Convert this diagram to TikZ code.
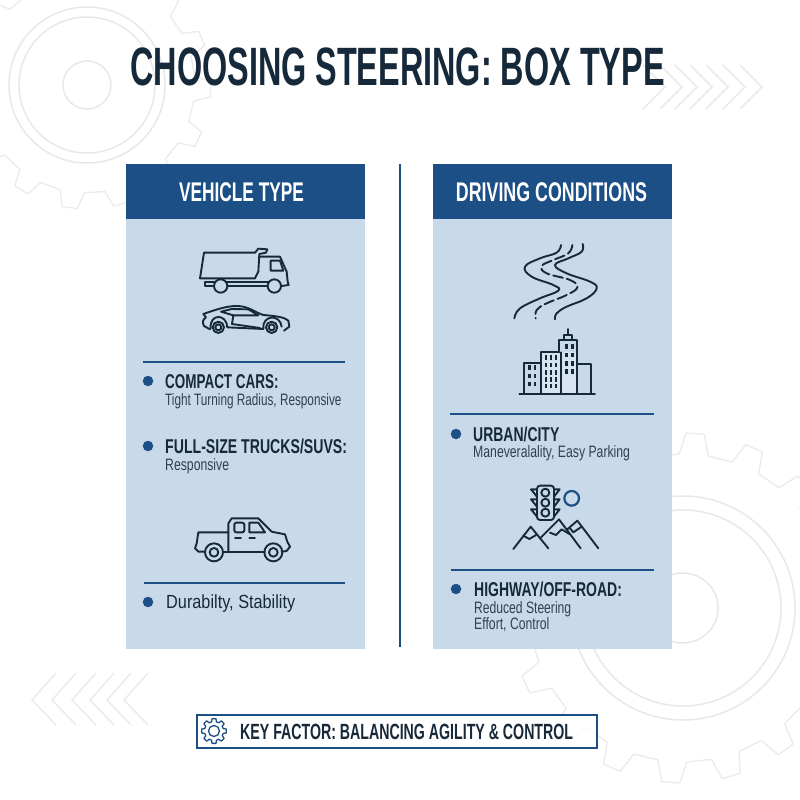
\documentclass[tikz,border=0pt]{standalone}
\usepackage{graphicx}
\usepackage{fontspec}
\setmainfont[FakeStretch=0.72]{Liberation Sans}
\definecolor{ink}{HTML}{16293B}
\definecolor{subink}{HTML}{2E4152}
\definecolor{navy}{HTML}{1C4F85}
\definecolor{panel}{HTML}{C8D9EA}
\definecolor{light}{HTML}{D6E3F0}
\definecolor{rim}{HTML}{E7E8EA}
\definecolor{rimb}{HTML}{EAEBED}
\newcommand{\sx}[2]{\scalebox{#1}[1]{#2}}
\tikzset{
  x=1pt,y=-1pt,
  panelbox/.style={fill=panel,draw=none},
  headbox/.style={fill=navy,draw=none},
  sepline/.style={draw=navy,line width=1.6pt},
  bulletdot/.style={circle,fill=navy,inner sep=0pt,minimum size=10.5pt},
  headtext/.style={text=white,font=\bfseries\fontsize{27}{27}\selectfont,inner sep=0pt},
  itemhead/.style={anchor=base west,text=ink,font=\bfseries\fontsize{20}{20}\selectfont,inner sep=0pt},
  itemsub/.style={anchor=base west,text=subink,font=\fontsize{16.5}{16.5}\selectfont,inner sep=0pt},
  iconline/.style={draw=ink,line width=1.9pt,line join=round,line cap=round},
  gearline/.style={draw=rimb,line width=1.3pt,line join=round},
  ringline/.style={draw=rim,line width=1.5pt},
  chevline/.style={draw=rimb,line width=1.5pt,line join=miter},
  smallbox/.style={shift={#1},xscale=1/3,yscale=1/3}
}
\newcommand{\cogpath}[6]{% cx cy root tip n offset
  \begin{scope}[shift={(#1,#2)}]
    \pgfmathsetmacro{\cogp}{360/#5}
    \foreach \k in {1,...,#5}{
      \pgfmathsetmacro{\coga}{#6+\k*\cogp}
      \draw[gearline] (\coga-0.27*\cogp:#3) -- (\coga-0.15*\cogp:#4) -- (\coga+0.15*\cogp:#4) -- (\coga+0.27*\cogp:#3) -- (\coga+0.73*\cogp:#3);
    }
  \end{scope}}
\begin{document}
\begin{tikzpicture}
\useasboundingbox (0,0) rectangle (800,800);
\clip (0,0) rectangle (800,800);
\fill[white] (0,0) rectangle (800,800);
% background gears
\cogpath{87}{85}{108}{124}{15}{2}
\draw[ringline] (87,85) circle[radius=78];
\draw[ringline] (87,85) circle[radius=68];
\draw[ringline] (87,85) circle[radius=24];
\cogpath{683}{608}{154}{175}{18}{-86}
\draw[ringline] (683,608) circle[radius=112];
\draw[ringline] (683,608) circle[radius=98];
\draw[ringline] (683,608) circle[radius=35];
% chevrons
\foreach \a in {665,682,697,712,728,745,762}
  \draw[chevline] (\a-22,109) -- (\a,87) -- (\a-22,65);
\foreach \a in {32,52,72,90,107,124}
  \draw[chevline] (\a+24,673) -- (\a,700) -- (\a+24,725);
% title
\node[text=ink,font=\bfseries\fontsize{54}{54}\selectfont,inner sep=0pt,anchor=base] (title) at (397.5,85) {\sx{0.833}{CHOOSING STEERING: BOX TYPE}};
% panels
\fill[panelbox] (126,164) rectangle (365,649);
\fill[headbox] (126,164) rectangle (365,219);
\fill[panelbox] (433,164) rectangle (672,649);
\fill[headbox] (433,164) rectangle (672,219);
\draw[navy,line width=2pt] (400,164) -- (400,647);
\node[headtext,anchor=base] (headl) at (241.5,201.5) {\sx{0.89}{VEHICLE TYPE}};
\node[headtext,anchor=base] (headr) at (551.5,201.5) {\sx{0.917}{DRIVING CONDITIONS}};
% separators
\draw[sepline] (143,362) -- (345,362);
\draw[sepline] (144,583) -- (345,583);
\draw[sepline] (450,414) -- (654,414);
\draw[sepline] (451,570) -- (654,570);
% left items
\node[bulletdot] (b1) at (148,381) {};
\node[itemhead] (t1) at (165,388) {\sx{0.934}{COMPACT CARS:}};
\node[itemsub] (s1) at (165,405) {\sx{0.99}{Tight Turning Radius, Responsive}};
\node[bulletdot] (b2) at (148,446) {};
\node[itemhead] (t2) at (165,453) {\sx{0.98}{FULL-SIZE TRUCKS/SUVS:}};
\node[itemsub] (s2) at (165,470) {\sx{1.03}{Responsive}};
\node[bulletdot] (b3) at (148,602) {};
\node[itemhead,font=\fontsize{19}{19}\selectfont] (t3) at (166,608) {\sx{1.19}{Durabilty, Stability}};
% right items
\node[bulletdot] (b4) at (456,434) {};
\node[itemhead] (t4) at (473,441) {\sx{0.97}{URBAN/CITY}};
\node[itemsub] (s4) at (473,457) {\sx{1.03}{Maneveralality, Easy Parking}};
\node[bulletdot] (b5) at (456,589) {};
\node[itemhead] (t5) at (474,596) {\sx{0.97}{HIGHWAY/OFF-ROAD:}};
\node[itemsub] (s5) at (474,613) {\sx{1.02}{Reduced Steering}};
\node[itemsub] (s6) at (474,629) {\sx{1.03}{Effort, Control}};
% truck
\begin{scope}[smallbox={(120,230)}]
  \draw[iconline] (252,68) -- (405,68) -- (415,56) -- (442,58) -- (438,68) -- (418,72) -- (415,125) -- (405,145) -- (240,145) -- cycle;
  \draw[iconline] (418,80) -- (480,80) -- (500,125) -- (503,155) -- (506,165) -- (485,168);
  \draw[iconline] (440,168) -- (325,168);
  \draw[iconline] (280,168) -- (255,168) -- (255,155) -- (285,155);
  \draw[iconline] (320,155) -- (445,155);
  \draw[iconline] (452,92) -- (480,92) -- (490,122) -- (452,122) -- cycle;
  \draw[iconline] (302,168) circle[radius=20];
  \draw[iconline] (463,168) circle[radius=20];
  % car
  \draw[iconline] (270,298) -- (252,288) .. controls (245,275) and (250,268) .. (258,262) -- (250,252) .. controls (290,238) and (320,228) .. (350,228) .. controls (385,228) and (400,245) .. (430,255) .. controls (470,258) and (495,262) .. (505,272) -- (508,290) -- (492,302);
  \draw[iconline] (272,295) .. controls (268,250) and (320,250) .. (322,292) -- (430,297) .. controls (425,255) and (480,250) .. (485,290);
  \draw[iconline] (295,292) circle[radius=17];
  \draw[iconline] (295,292) circle[radius=9];
  \draw[iconline] (455,292) circle[radius=17];
  \draw[iconline] (455,292) circle[radius=9];
  \draw[iconline] (303,245) -- (335,237) -- (385,238) -- (415,256) -- (340,256) -- cycle;
  \draw[iconline] (340,256) -- (336,282) -- (420,294);
\end{scope}
% pickup
\begin{scope}[smallbox={(170,500)}]
  \draw[iconline] (105,155) -- (85,155) -- (75,145) -- (80,130) -- (85,97) -- (175,97);
  \draw[iconline] (160,157) -- (285,157);
  \draw[iconline] (175,157) -- (175,70) -- (185,55) -- (265,55) -- (305,95) -- (345,103) -- (352,125) -- (360,140) -- (350,153) -- (335,155);
  \draw[iconline,rounded corners=2pt] (193,68) rectangle (223,97);
  \draw[iconline] (238,68) -- (265,68) -- (285,97) -- (238,97) -- cycle;
  \draw[iconline] (195,115) -- (213,115);
  \draw[iconline] (238,115) -- (255,115);
  \draw[iconline] (132,157) circle[radius=27];
  \draw[iconline] (132,157) circle[radius=13];
  \draw[iconline] (310,157) circle[radius=27];
  \draw[iconline] (310,157) circle[radius=13];
\end{scope}
% roads and city
\begin{scope}[smallbox={(490,230)}]
  \draw[iconline] plot[smooth,tension=0.7] coordinates {(213,45) (200,68) (150,85) (105,110) (125,140) (190,165) (205,182) (150,205) (90,235) (73,265)};
  \draw[iconline,dash pattern=on 10pt off 4pt] plot[smooth,tension=0.7] coordinates {(247,45) (235,70) (190,90) (155,108) (170,130) (240,150) (262,172) (230,195) (170,220) (140,240) (137,265)};
  \draw[iconline] plot[smooth,tension=0.7] coordinates {(278,42) (275,65) (235,85) (195,105) (230,130) (300,155) (320,175) (290,205) (230,230) (200,250) (195,268)};
  \fill[light] (152,367) rectangle (262,492);
  \draw[iconline] (234,297) -- (234,315);
  \draw[iconline] (222,315) rectangle (245,330);
  \draw[iconline] (103,492) -- (103,400) -- (152,400);
  \draw[iconline] (152,492) -- (152,367) -- (207,367);
  \draw[iconline] (212,367) -- (212,492);
  \draw[iconline] (207,367) -- (207,330) -- (262,330) -- (262,492);
  \draw[iconline] (262,402) -- (302,402) -- (302,492);
  \draw[iconline] (88,492) -- (315,492);
  \foreach \c in {118,135} \foreach \r in {413,438,462} \fill[ink] (\c-4,\r-7) rectangle (\c+4,\r+7);
  \foreach \c in {168,183,198} \foreach \r in {383,405,428,448,468} \fill[ink] (\c-4,\r-7) rectangle (\c+4,\r+7);
  \foreach \c in {230,247} \foreach \r in {350,375,400,425} \fill[ink] (\c-4,\r-7) rectangle (\c+4,\r+7);
\end{scope}
% traffic light and mountains
\begin{scope}[smallbox={(490,470)}]
  \draw[iconline,rounded corners=3pt] (141,47) rectangle (192,150);
  \foreach \r in {68,98,128}{
    \draw[iconline] (166,\r) circle[radius=12];
    \draw[iconline] (141,\r-10) -- (123,\r-10) -- (141,\r+12);
    \draw[iconline] (192,\r-10) -- (209,\r-10) -- (192,\r+12);
  }
  \draw[navy,line width=2.2pt] (245,85) circle[radius=22];
  \draw[iconline] (70,237) -- (122,170) -- (175,235);
  \draw[iconline] (150,205) -- (207,148) -- (272,235);
  \draw[iconline] (232,178) -- (262,152) -- (325,235);
  \draw[iconline] (100,197) -- (118,207) -- (138,195);
  \draw[iconline] (180,188) -- (198,195) -- (215,178) -- (238,192);
  \draw[iconline] (240,175) -- (250,187) -- (275,170);
\end{scope}
% key factor box
\draw[draw=navy,line width=2pt,fill=white,fill opacity=0.8] (196.5,715) rectangle (596.5,747.5);
\begin{scope}[shift={(214,731)}]
  \foreach \k in {0,45,...,315}
    \draw[draw=navy,line width=1.3pt,line join=round] (\k-15:9.5) -- (\k-9:12.5) -- (\k+9:12.5) -- (\k+15:9.5) -- (\k+30:9.5);
  \draw[draw=navy,line width=1.3pt] (0,0) circle[radius=5.5];
\end{scope}
\node[anchor=base west,text=ink,font=\bfseries\fontsize{22}{22}\selectfont,inner sep=0pt] (key) at (240,739.5) {\sx{0.895}{KEY FACTOR: BALANCING AGILITY \& CONTROL}};
\end{tikzpicture}
\end{document}
